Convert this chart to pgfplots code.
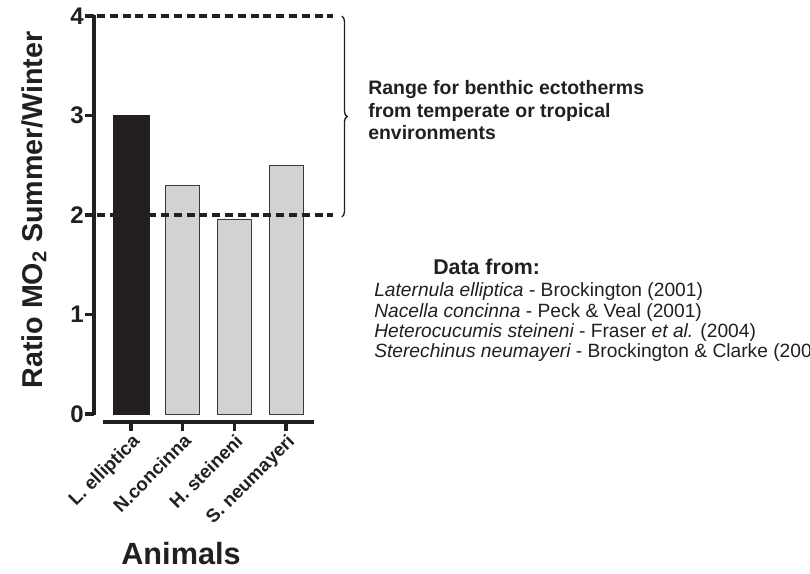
\documentclass[border=0pt]{standalone}
\usepackage{fontspec}
\setmainfont{Liberation Sans}
\usepackage{pgfplots}
\pgfplotsset{compat=1.18}
\usetikzlibrary{decorations.pathreplacing}
\definecolor{barblack}{HTML}{231F20}
\definecolor{bargray}{HTML}{D1D2D4}
\definecolor{edge}{HTML}{3A3A3A}
\begin{document}
\begin{tikzpicture}
\begin{axis}[
  at={(98.25pt,120pt)}, anchor=origin,
  x=38.75pt, y=74.625pt,
  xmin=-0.716, xmax=3.54, ymin=-0.08, ymax=4,
  axis x line*=bottom, axis y line*=left,
  axis line style={draw=none},
  xtick={0,1,2,3},
  xticklabels={L. elliptica, N.concinna, H. steineni, S. neumayeri},
  ytick={0,1,2,3,4},
  tick align=outside, major tick length=6.5pt,
  tick style={line width=2.4pt, color=barblack},
  xticklabel style={rotate=45, anchor=north east, font=\bfseries\fontsize{14}{16}\selectfont, inner sep=1pt, text=barblack},
  yticklabel style={font=\bfseries\fontsize{18}{20}\selectfont, inner sep=1pt, text=barblack},
  /pgf/number format/assume math mode=true,
  clip=false,
]
\addplot[ybar, bar shift=0pt, bar width=27pt, fill=barblack, draw=barblack] coordinates {(0,3.0)};
\addplot[ybar, bar shift=0pt, bar width=25.5pt, fill=bargray, draw=edge, line width=0.7pt] coordinates {(1,2.3) (2,1.96) (3,2.5)};
\draw[line width=3pt, barblack] (axis cs:-0.716,-0.012) -- (axis cs:-0.716,4.012);
\draw[line width=3pt, barblack] (axis cs:-0.54,-0.08) -- (axis cs:3.54,-0.08);
\draw[line width=2.3pt, barblack, dash pattern=on 6pt off 3.6pt] (axis cs:-0.66,4) -- (axis cs:3.91,4);
\draw[line width=2.3pt, barblack, dash pattern=on 6pt off 3.6pt] (axis cs:-0.66,2) -- (axis cs:3.91,2);
\draw[barblack, line width=1pt, decorate, decoration={brace, amplitude=4pt}] (axis cs:4.08,4) -- (axis cs:4.08,1.98);
\end{axis}
\begin{scope}[x=0.75pt, y=-0.75pt, shift={(0pt,430.5pt)}]
\node[anchor=base, rotate=90, inner sep=0pt, text=barblack, font=\bfseries\fontsize{21.5}{24}\selectfont] at (42,210) {Ratio MO\textsubscript{2} Summer/Winter};
\node[anchor=base, inner sep=0pt, text=barblack, font=\bfseries\fontsize{23}{26}\selectfont] at (181,565) {Animals};
\begin{scope}[every node/.style={anchor=base west, inner sep=0pt, text=barblack, font=\bfseries\fontsize{14.6}{17}\selectfont}]
\node at (368,95) {Range for benthic ectotherms};
\node at (368,118) {from temperate or tropical};
\node at (368,140) {environments};
\node[font=\bfseries\fontsize{16}{19}\selectfont] at (433,275) {Data from:};
\end{scope}
\begin{scope}[every node/.style={anchor=base west, inner sep=0pt, text=barblack, font=\fontsize{14.4}{17}\selectfont}]
\node at (374,297) {{\itshape Laternula elliptica} - Brockington (2001)};
\node at (374,317.5) {{\itshape Nacella concinna} - Peck \& Veal (2001)};
\node at (374,338) {{\itshape Heterocucumis steineni} - Fraser {\itshape et al.} (2004)};
\node at (374,358) {{\itshape Sterechinus neumayeri} - Brockington \& Clarke (2004)};
\end{scope}
\end{scope}
\pgfresetboundingbox
\path[use as bounding box] (0,0) rectangle (607.5pt,430.5pt);
\end{tikzpicture}
\end{document}
